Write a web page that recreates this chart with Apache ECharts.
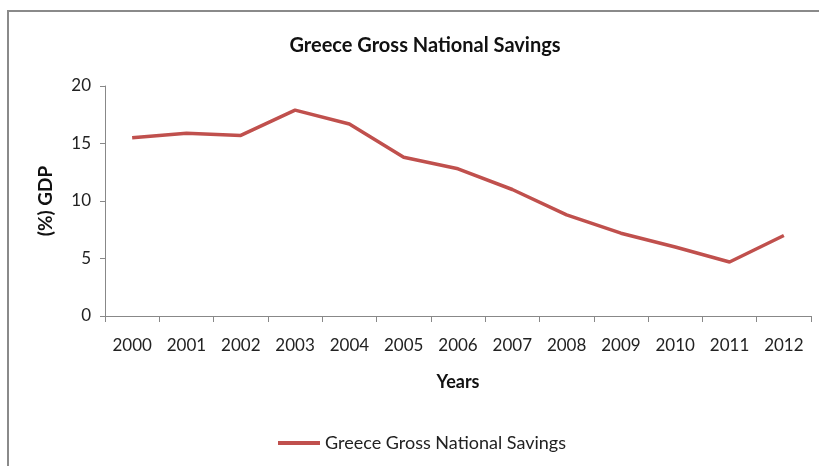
<!DOCTYPE html>
<html>
<head>
<meta charset="utf-8">
<script src="https://cdn.jsdelivr.net/npm/echarts@6/dist/echarts.min.js"></script>
<style>html,body{margin:0;padding:0;background:#fff}#c{width:819px;height:466px}</style>
</head>
<body>
<div id="c"></div>
<script>
var years = ['2000','2001','2002','2003','2004','2005','2006','2007','2008','2009','2010','2011','2012'];
var savings = [15.5, 15.9, 15.7, 17.9, 16.7, 13.8, 12.8, 11.0, 8.8, 7.2, 6.0, 4.7, 7.0];
var yTicks = [0, 5, 10, 15, 20];
var seriesName = 'Greece Gross National Savings';

var FONT = 'Lato, "Open Sans", sans-serif';
var chart = echarts.init(document.getElementById('c'));
chart.setOption({
  animation: false,
  backgroundColor: '#fff',
  title: {
    text: seriesName,
    left: 420, top: 31, textAlign: 'center',
    textStyle: {fontFamily: FONT, fontSize: 20, fontWeight: 'bold', color: '#111'}
  },
  graphic: [{
    type: 'rect', shape: {x: 8, y: 11, width: 900, height: 500},
    style: {fill: 'none', stroke: '#8a8a8a', lineWidth: 2}, silent: true
  }],
  legend: {
    data: [seriesName], left: 273, top: 429, itemWidth: 42, itemHeight: 4, itemGap: 0,
    icon: 'rect',
    textStyle: {fontFamily: FONT, fontSize: 18, color: '#222'}
  },
  grid: {left: 105, right: 8, top: 86, bottom: 150},
  xAxis: {
    type: 'category', data: years, boundaryGap: true,
    name: 'Years', nameLocation: 'middle', nameGap: 57,
    nameTextStyle: {fontFamily: FONT, fontSize: 18, fontWeight: 'bold', color: '#111'},
    axisLine: {lineStyle: {color: '#888', width: 1}},
    axisTick: {show: true, length: 6, lineStyle: {color: '#888'}},
    axisLabel: {fontFamily: FONT, fontSize: 17, color: '#222', margin: 21}
  },
  yAxis: {
    type: 'value', min: 0, max: 20, interval: 5,
    name: '(%) GDP', nameLocation: 'middle', nameGap: 50, nameRotate: 90,
    nameTextStyle: {fontFamily: FONT, fontSize: 19, fontWeight: 'bold', color: '#111'},
    axisLine: {show: true, lineStyle: {color: '#888', width: 1}},
    axisTick: {show: true, length: 5, lineStyle: {color: '#888'}},
    splitLine: {show: false},
    axisLabel: {fontFamily: FONT, fontSize: 17, color: '#222', margin: 14,
      formatter: function(v){ return yTicks.indexOf(v) >= 0 ? String(v) : ''; }}
  },
  series: [{
    name: seriesName, type: 'line', data: savings,
    symbol: 'none', smooth: false,
    lineStyle: {color: '#C0504D', width: 3.5},
    itemStyle: {color: '#C0504D'}
  }]
});
</script>
</body>
</html>
